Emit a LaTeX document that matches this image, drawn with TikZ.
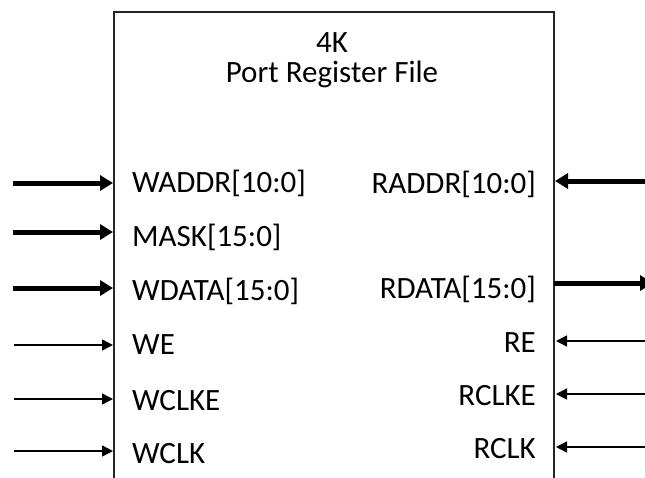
\documentclass[tikz,border=0pt]{standalone}
\usepackage{fontspec}
\setmainfont{Carlito}
\usetikzlibrary{arrows.meta}
\begin{document}
\begin{tikzpicture}[x=1pt,y=-1pt,
  lbl/.style={inner sep=0pt, font=\fontsize{31}{30}\selectfont},
  lpin/.style={lbl, anchor=base west},
  rpin/.style={lbl, anchor=base east},
  bus/.style={line width=5pt, -{Triangle[length=13pt,width=15pt]}},
  wire/.style={line width=1.4pt, -{Triangle[length=11pt,width=11pt]}},
  blk/.style={draw=black!85, line width=1.3pt, outer sep=0pt, inner sep=0pt}]
\useasboundingbox (0,0) rectangle (645,477);
\clip (0,0) rectangle (645,477);
\node[blk, minimum width=440pt, minimum height=500pt, anchor=north west] (box) at (114,12) {};
\node[lbl, anchor=base] (t1) at (332,52) {4K};
\node[lbl, anchor=base] (t2) at (332,82) {Port Register File};
% left labels
\node[lpin] (waddr) at (132,192) {WADDR[10:0]};
\node[lpin] (mask) at (132,246) {MASK[15:0]};
\node[lpin] (wdata) at (132,300) {WDATA[15:0]};
\node[lpin] (we) at (132,354) {WE};
\node[lpin] (wclke) at (132,410) {WCLKE};
\node[lpin] (wclk) at (132,463) {WCLK};
% right labels
\node[rpin] (raddr) at (536,193) {RADDR[10:0]};
\node[rpin] (rdata) at (536,298) {RDATA[15:0]};
\node[rpin] (re) at (536,352) {RE};
\node[rpin] (rclke) at (536,405) {RCLKE};
\node[rpin] (rclk) at (536,458) {RCLK};
% coordinates
\coordinate (waddr-s) at (13,183);  \coordinate (waddr-e) at (113,183);
\coordinate (mask-s) at (13,232);   \coordinate (mask-e) at (113,232);
\coordinate (wdata-s) at (13,288);  \coordinate (wdata-e) at (113,288);
\coordinate (we-s) at (14,345);     \coordinate (we-e) at (113,345);
\coordinate (wclke-s) at (14,399);  \coordinate (wclke-e) at (113,399);
\coordinate (wclk-s) at (14,451);   \coordinate (wclk-e) at (113,451);
\coordinate (raddr-s) at (646,181); \coordinate (raddr-e) at (555,181);
\coordinate (rdata-s) at (554,283); \coordinate (rdata-e) at (653,283);
\coordinate (re-s) at (646,341);    \coordinate (re-e) at (556,341);
\coordinate (rclke-s) at (646,394); \coordinate (rclke-e) at (556,394);
\coordinate (rclk-s) at (646,447);  \coordinate (rclk-e) at (556,447);
% connectors
\draw[bus] (waddr-s) -- (waddr-e);
\draw[bus] (mask-s) -- (mask-e);
\draw[bus] (wdata-s) -- (wdata-e);
\draw[wire] (we-s) -- (we-e);
\draw[wire] (wclke-s) -- (wclke-e);
\draw[wire] (wclk-s) -- (wclk-e);
\draw[bus] (raddr-s) -- (raddr-e);
\draw[bus] (rdata-s) -- (rdata-e);
\draw[wire] (re-s) -- (re-e);
\draw[wire] (rclke-s) -- (rclke-e);
\draw[wire] (rclk-s) -- (rclk-e);
\end{tikzpicture}
\end{document}
